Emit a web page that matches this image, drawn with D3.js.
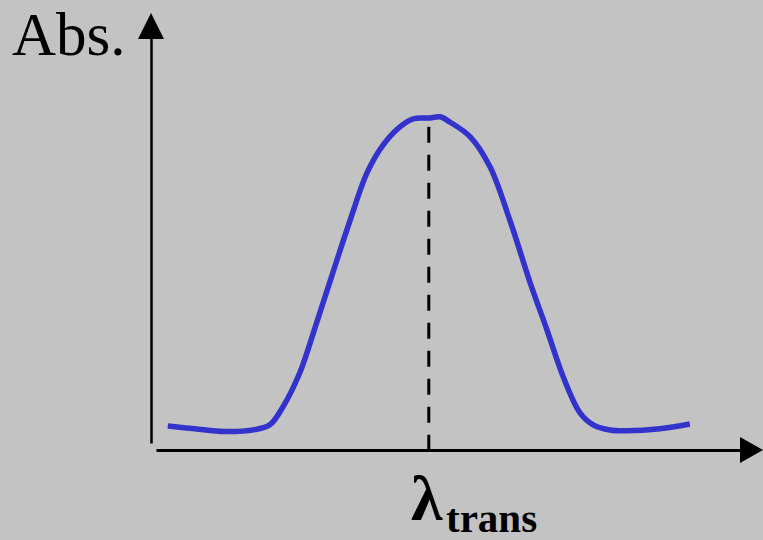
<!DOCTYPE html>
<html>
<head>
<meta charset="utf-8">
<script src="https://cdn.jsdelivr.net/npm/d3@7"></script>
<style>
  html, body { margin: 0; padding: 0; background: #c3c3c3; }
  svg { display: block; }
</style>
</head>
<body>
<div id="chart"></div>
<script>
// Absorption band: wavelength (arbitrary units) vs absorbance (arbitrary units)
const wavelength = [2.8, 7.3, 12.3, 17.3, 19.8, 22.0, 24.8, 27.6, 30.3, 33.2, 36.0, 38.7, 41.5, 43.7, 46.5, 48.2, 49.8, 53.2, 56.5, 59.8, 63.2, 66.0, 68.7, 71.5, 73.7, 76.5, 79.3, 84.8, 89.8];
const absorbance = [6.0, 5.3, 4.6, 5.1, 6.3, 10.8, 19.3, 31.8, 44.3, 57.5, 69.3, 76.3, 80.8, 82.8, 83.0, 83.3, 82.0, 78.3, 70.8, 57.5, 41.8, 30.0, 18.3, 9.3, 6.3, 5.0, 4.8, 5.3, 6.5];
const peakWavelength = 46.3;
const peakMarkTop = 80.8;
const yLabel = "Abs.";
const xLabelMain = "λ";
const xLabelSub = "trans";

const width = 763, height = 540;

const x = d3.scaleLinear().domain([0, 100]).range([151, 751]);
const y = d3.scaleLinear().domain([0, 100]).range([450, 50]);

const svg = d3.select("#chart").append("svg")
  .attr("width", width).attr("height", height);

svg.append("rect").attr("width", width).attr("height", height).attr("fill", "#c3c3c3");

// Axis lines (no ticks), each finished with an arrowhead
const xAxisScale = d3.scaleLinear().domain([x.invert(156), x.invert(742)]).range([156, 742]);
const yAxisScale = d3.scaleLinear().domain([y.invert(443), y.invert(37)]).range([443, 37]);

const xAxis = svg.append("g")
  .attr("transform", `translate(0,${y(0)})`)
  .call(d3.axisBottom(xAxisScale).tickValues([]).tickSizeOuter(0));
xAxis.select(".domain").attr("stroke", "#000").attr("stroke-width", 3);

const yAxis = svg.append("g")
  .attr("transform", `translate(${x(0)},0)`)
  .call(d3.axisLeft(yAxisScale).tickValues([]).tickSizeOuter(0));
yAxis.select(".domain").attr("stroke", "#000").attr("stroke-width", 2.5);

const x0 = x(0), y0 = y(0);
svg.append("path")
  .attr("d", `M763,${y0} L740,${y0 - 13} L740,${y0 + 13} Z`)
  .attr("fill", "#000");
svg.append("path")
  .attr("d", `M${x0},13 L${x0 - 13},39 L${x0 + 13},39 Z`)
  .attr("fill", "#000");

// Dashed marker at the band maximum
svg.append("line")
  .attr("x1", x(peakWavelength)).attr("x2", x(peakWavelength))
  .attr("y1", y(peakMarkTop)).attr("y2", y(0))
  .attr("stroke", "#000").attr("stroke-width", 3)
  .attr("stroke-dasharray", "16,12");

// Absorption curve
const line = d3.line()
  .x((d, i) => x(wavelength[i]))
  .y((d, i) => y(absorbance[i]))
  .curve(d3.curveCatmullRom.alpha(0.5));

svg.append("path")
  .datum(wavelength)
  .attr("d", line)
  .attr("fill", "none")
  .attr("stroke", "#3333cc")
  .attr("stroke-width", 5.5)
  .attr("stroke-linecap", "butt");

// Labels
svg.append("text")
  .attr("x", 12).attr("y", 55)
  .attr("font-family", "'Liberation Serif', 'Times New Roman', serif")
  .attr("font-size", 61)
  .attr("fill", "#000")
  .text(yLabel);

const xl = svg.append("text")
  .attr("x", 411).attr("y", 520)
  .attr("font-family", "'Liberation Serif', 'Times New Roman', serif")
  .attr("font-weight", "bold")
  .attr("fill", "#000");
xl.append("tspan").attr("font-size", 64).text(xLabelMain);
xl.append("tspan").attr("font-size", 41).attr("x", 446).attr("dy", 12).text(xLabelSub);
</script>
</body>
</html>
